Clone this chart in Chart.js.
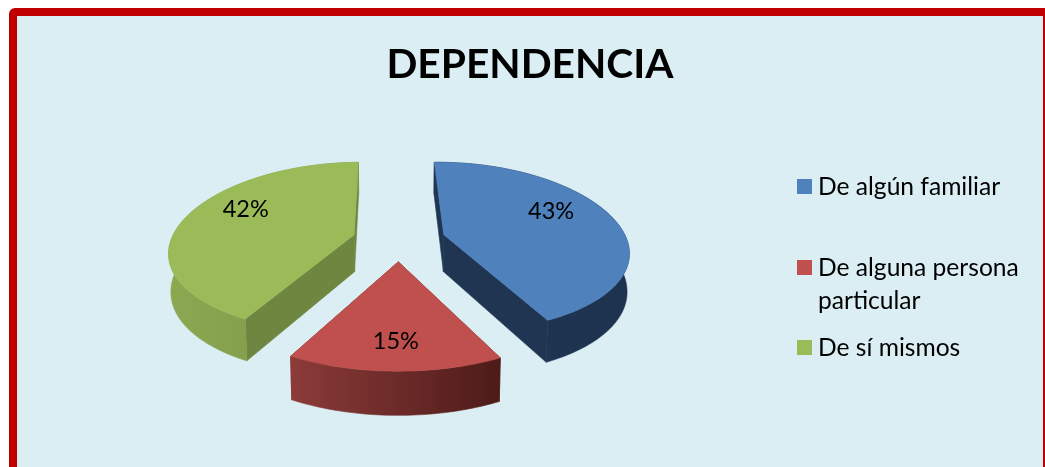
<!DOCTYPE html>
<html>
<head>
<meta charset="utf-8">
<script src="https://cdn.jsdelivr.net/npm/chart.js@4"></script>
<style>
    html, body { margin: 0; padding: 0; background: #fff; overflow: hidden; width: 1045px; height: 467px; }
    #frame {
        position: absolute; left: 9px; top: 8px; width: 1026px; height: 480px;
        border: 8px solid #c00000; border-radius: 6px; background: #dbeef4;
    }
    #wrap { position: absolute; left: 0; top: 0; width: 1026px; height: 451px; }
</style>
</head>
<body>
<div id="frame"><div id="wrap"><canvas id="pieChart"></canvas></div></div>
<script>
const titleText = "DEPENDENCIA";
const categories = ["De algún familiar", "De alguna persona particular", "De sí mismos"];
const legendLines = [["De algún familiar"], ["De alguna persona", "particular"], ["De sí mismos"]];
const values = [43, 15, 42];

const topColors = ["#4f81bd", "#c0504d", "#9bbb59"];
const edgeColors = ["#1f3552", "#6e2a28", "#6e8640"];
const wallFrom = ["#1f3552", "#8c3b39", "#8ca851"];
const wallTo = ["#1e3350", "#4d1b19", "#7b9548"];

// where things sit on the page, canvas starts at 17,16
const originX = 17, originY = 16;
const centerX = 399, horizonY = 235;
const explode = 0.255;

// tilt of the pie: far side small, near side big
function project(u, v) {
    let q = v + 0.0556;
    let bulge = q > 0 ? 1.8 * q * q * q : 0;
    return {
        x: centerX + 181 * u / (1 - 0.18 * q) - originX,
        y: horizonY + 82.5 * q / (1 - 0.1385 * q) + bulge - originY,
        q: q
    };
}

function lower(p) {
    let cx = centerX - originX;
    return { x: cx + (p.x - cx) * 0.99, y: p.y + 37 + 5.5 * p.q };
}

function trace(ctx, pts) {
    ctx.beginPath();
    pts.forEach((p, i) => i ? ctx.lineTo(p.x, p.y) : ctx.moveTo(p.x, p.y));
    ctx.closePath();
}

// fill plus a hair of stroke, so no seam shows between the pieces
function paint(ctx, color) {
    ctx.fillStyle = color;
    ctx.strokeStyle = color;
    ctx.lineWidth = 0.6;
    ctx.fill();
    ctx.stroke();
}

// the library computes the angles, here they only get tilted and extruded
const pie3d = {
    id: "pie3d",
    beforeDatasetDraw(chart) {
        const ctx = chart.ctx;
        const arcs = chart.getDatasetMeta(0).data;
        arcs.forEach((arc, i) => {
            let a0 = arc.startAngle, a1 = arc.endAngle, mid = (a0 + a1) / 2;
            let ox = Math.cos(mid) * explode, oy = Math.sin(mid) * explode;
            let apex = project(ox, oy);
            let rim = [];
            let steps = Math.ceil((a1 - a0) / 0.02);
            for (let s = 0; s <= steps; s++) {
                let a = a0 + (a1 - a0) * s / steps;
                rim.push(project(ox + Math.cos(a), oy + Math.sin(a)));
            }
            let rimLow = rim.map(lower);
            let first = rim[0], last = rim[rim.length - 1];

            ctx.save();
            // flat walls of the cut
            trace(ctx, [apex, first, lower(first), lower(apex)]);
            paint(ctx, edgeColors[i]);
            trace(ctx, [apex, last, lower(last), lower(apex)]);
            paint(ctx, edgeColors[i]);

            // outer wall
            let xs = rim.map(p => p.x);
            let grad = ctx.createLinearGradient(Math.min(...xs), 0, Math.max(...xs), 0);
            grad.addColorStop(0, wallFrom[i]);
            grad.addColorStop(1, wallTo[i]);
            trace(ctx, rim.concat(rimLow.slice().reverse()));
            paint(ctx, grad);

            // top face
            trace(ctx, [apex].concat(rim));
            paint(ctx, topColors[i]);
            ctx.restore();
        });
        return false;
    }
};

const labelTurn = [-0.19, 0, 0.22];
const labelDist = [0.7, 0.765, 0.72];

const pieLabels = {
    id: "pieLabels",
    afterDatasetsDraw(chart) {
        const ctx = chart.ctx;
        const arcs = chart.getDatasetMeta(0).data;
        ctx.save();
        ctx.fillStyle = "#000";
        ctx.font = "23.5px Lato";
        ctx.textAlign = "center";
        ctx.textBaseline = "middle";
        arcs.forEach((arc, i) => {
            let mid = (arc.startAngle + arc.endAngle) / 2;
            let a = mid + labelTurn[i];
            let p = project(Math.cos(mid) * explode + Math.cos(a) * labelDist[i],
                            Math.sin(mid) * explode + Math.sin(a) * labelDist[i]);
            ctx.fillText(values[i] + "%", p.x, p.y);
        });
        ctx.restore();
    }
};

// legend has uneven gaps and a wrapped entry, so it is drawn by hand
const legendTop = [179, 260, 340];
const sideLegend = {
    id: "sideLegend",
    afterDraw(chart) {
        const ctx = chart.ctx;
        ctx.save();
        ctx.font = "24.6px Lato";
        ctx.textBaseline = "alphabetic";
        ctx.textAlign = "left";
        legendLines.forEach((lines, i) => {
            ctx.fillStyle = topColors[i];
            ctx.fillRect(797 - originX, legendTop[i] - originY, 15, 15);
            ctx.fillStyle = "#000";
            lines.forEach((line, n) => {
                ctx.fillText(line, 818 - originX, legendTop[i] + 15.5 - originY + n * 33);
            });
        });
        ctx.restore();
    }
};

new Chart(document.getElementById("pieChart"), {
    type: "pie",
    data: {
        labels: categories,
        datasets: [{ data: values, backgroundColor: topColors, borderWidth: 0 }]
    },
    plugins: [pie3d, pieLabels, sideLegend],
    options: {
        responsive: true,
        maintainAspectRatio: false,
        animation: false,
        events: [],
        rotation: -1,
        plugins: {
            legend: { display: false },
            tooltip: { enabled: false },
            title: {
                display: true,
                text: titleText,
                color: "#000",
                font: { family: "Lato", size: 40.7, weight: "bold" },
                padding: { top: 24, bottom: 10 }
            }
        }
    }
});
</script>
</body>
</html>
